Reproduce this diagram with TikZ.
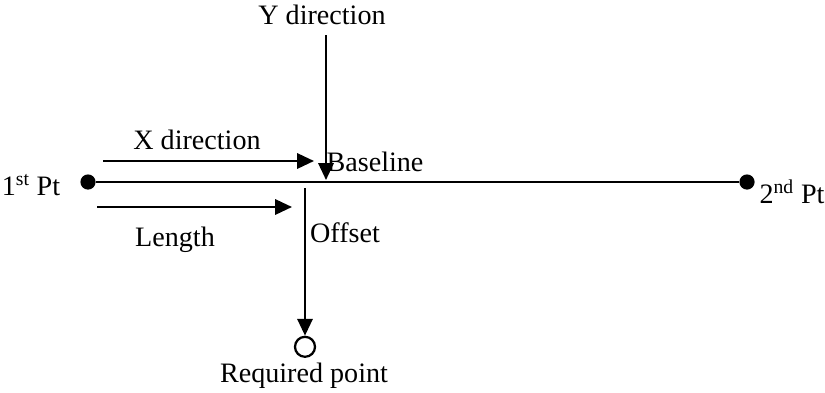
\documentclass[tikz,border=0pt]{standalone}
\usepackage{fontspec}
\setmainfont{Liberation Serif}
\usepackage{tikz}
\usetikzlibrary{arrows.meta,positioning,calc}

\begin{document}
\begin{tikzpicture}[
    lbl/.style={font=\fontsize{20}{24}\selectfont, inner sep=0pt},
    pt/.style={circle, fill=black, minimum size=0.38cm, inner sep=0pt},
    reqpt/.style={circle, draw=black, line width=1.6pt, minimum size=0.5cm, inner sep=0pt},
    line/.style={line width=1.7pt},
    arrow/.style={line width=1.7pt, -{Triangle[length=0.42cm, width=0.38cm]}}]

\useasboundingbox (0,0) rectangle (20.625,9.8);

% Baseline end points
\node[pt] (p1) at (2.2,5.25) {};
\node[pt] (p2) at (18.675,5.25) {};
\draw[line] (p1) -- (p2);

% Arrows
\coordinate (xs) at (2.575,5.775);
\coordinate (xe) at (7.85,5.775);
\coordinate (ys) at (8.15,8.925);
\coordinate (ye) at (8.15,5.3);
\coordinate (ls) at (2.425,4.625);
\coordinate (le) at (7.3,4.625);
\coordinate (os) at (7.625,5.1);
\node[reqpt] (req) at (7.625,1.13) {};
\draw[arrow] (xs) -- (xe);
\draw[arrow] (ys) -- (ye);
\draw[arrow] (ls) -- (le);
\draw[arrow] (os) -- (req.north);

% Labels
\node[lbl] (ydir) at (8.05,9.425) {Y direction};
\node[lbl] (xdir) at (4.925,6.3) {X direction};
\node[lbl] (base) at (9.375,5.75) {Baseline};
\node[lbl] (first) at (0.775,5.175) {1\textsuperscript{st} Pt};
\node[lbl] (second) at (19.8,5.0) {2\textsuperscript{nd} Pt};
\node[lbl] (len) at (4.375,3.8) {Length};
\node[lbl] (off) at (8.625,3.975) {Offset};
\node[lbl] (reqlbl) at (7.6,0.4) {Required point};
\end{tikzpicture}
\end{document}
